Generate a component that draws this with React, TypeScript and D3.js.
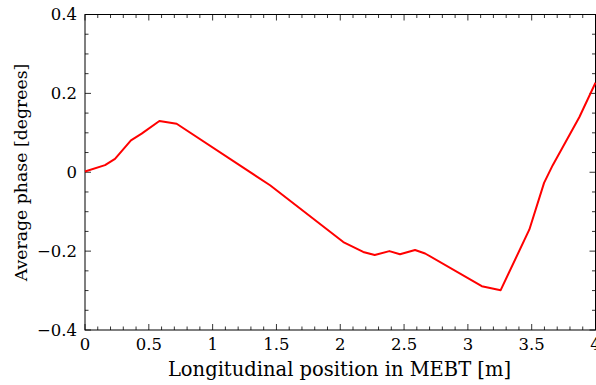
import React, { useRef, useEffect } from 'react';
import * as d3 from 'd3';

// longitudinal position [m] and average phase [deg]
const positions = [0, 0.157, 0.235, 0.36, 0.444, 0.583, 0.718, 1.45, 2.024, 2.18, 2.27, 2.385, 2.468, 2.586, 2.665, 3.109, 3.257, 3.482, 3.597, 3.665, 3.874, 4.0];
const phases = [0.002, 0.018, 0.034, 0.081, 0.098, 0.13, 0.123, -0.033, -0.177, -0.202, -0.21, -0.2, -0.208, -0.197, -0.206, -0.289, -0.299, -0.145, -0.027, 0.018, 0.14, 0.227];

const xTicks = [0, 0.5, 1, 1.5, 2, 2.5, 3, 3.5, 4];
const yTicks = [-0.4, -0.2, 0, 0.2, 0.4];

const App = () => {
  const svgRef = useRef<SVGSVGElement>(null);
  const width = 596;
  const height = 385;
  const margin = { top: 14.5, right: 0.5, bottom: 55, left: 85 };
  const font = "'DejaVu Serif', serif";

  useEffect(() => {
    const svg = d3.select(svgRef.current);
    svg.selectAll('*').remove();

    const x = d3.scaleLinear().domain([0, 4]).range([margin.left, width - margin.right]);
    const y = d3.scaleLinear().domain([-0.4, 0.4]).range([height - margin.bottom, margin.top]);
    const [x0, x1] = x.range();
    const [y0, y1] = y.range();

    const g = svg.append('g').attr('font-family', font);

    // minor + major ticks on all four sides
    const xMinor = d3.range(0, 40.01, 1).map(d => d / 10);
    const yMinor = d3.range(-8, 8.01, 1).map(d => d / 20);
    const isMajorX = (v: number) => Math.abs(v * 2 - Math.round(v * 2)) < 1e-6;
    const isMajorY = (v: number) => Math.abs(v * 5 - Math.round(v * 5)) < 1e-6;

    xMinor.forEach(v => {
      const len = isMajorX(v) ? 6 : 3.5;
      g.append('line').attr('x1', x(v)).attr('x2', x(v)).attr('y1', y0).attr('y2', y0 - len)
        .attr('stroke', '#000').attr('stroke-width', 0.8);
      g.append('line').attr('x1', x(v)).attr('x2', x(v)).attr('y1', y1).attr('y2', y1 + len)
        .attr('stroke', '#000').attr('stroke-width', 0.8);
    });
    yMinor.forEach(v => {
      const len = isMajorY(v) ? 6 : 3.5;
      g.append('line').attr('x1', x0).attr('x2', x0 + len).attr('y1', y(v)).attr('y2', y(v))
        .attr('stroke', '#000').attr('stroke-width', 0.8);
      g.append('line').attr('x1', x1).attr('x2', x1 - len).attr('y1', y(v)).attr('y2', y(v))
        .attr('stroke', '#000').attr('stroke-width', 0.8);
    });

    // frame
    g.append('rect')
      .attr('x', x0).attr('y', y1)
      .attr('width', x1 - x0).attr('height', y0 - y1)
      .attr('fill', 'none').attr('stroke', '#000').attr('stroke-width', 1);

    // tick labels
    g.selectAll('.xlab').data(xTicks).enter().append('text')
      .attr('x', d => x(d)).attr('y', y0 + 20)
      .attr('text-anchor', 'middle')
      .attr('font-size', 16.5)
      .text(d => d3.format('')(d));

    g.selectAll('.ylab').data(yTicks).enter().append('text')
      .attr('x', x0 - 8).attr('y', d => y(d)).attr('dy', '0.35em')
      .attr('text-anchor', 'end')
      .attr('font-size', 16.5)
      .text(d => (d < 0 ? '\u2212' + Math.abs(d) : String(d)));

    // data line
    const line = d3.line<number>()
      .x((_, i) => x(positions[i]))
      .y(d => y(d));
    g.append('path')
      .datum(phases)
      .attr('d', line)
      .attr('fill', 'none')
      .attr('stroke', '#ff0000')
      .attr('stroke-width', 2)
      .attr('stroke-linejoin', 'round');

    // axis titles
    g.append('text')
      .attr('x', 339.5).attr('y', 376)
      .attr('text-anchor', 'middle')
      .attr('font-size', 19.5)
      .text('Longitudinal position in MEBT [m]');

    g.append('text')
      .attr('transform', `translate(27, 172.5) rotate(-90)`)
      .attr('text-anchor', 'middle')
      .attr('font-size', 17.3)
      .text('Average phase [degrees]');
  }, []);

  return (
    <svg ref={svgRef} width={width} height={height}
      style={{ position: 'absolute', left: 0, top: 0, background: '#fff' }} />
  );
};

export default App;
